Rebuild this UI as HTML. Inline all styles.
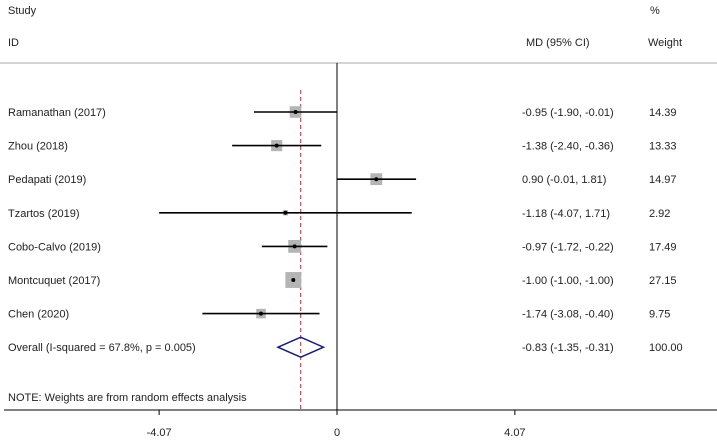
<!DOCTYPE html>
<html><head><meta charset="utf-8"><style>
body{margin:0;background:#fff;}
svg text{font-family:"Liberation Sans",sans-serif;font-size:11px;fill:#222;}
</style></head><body>
<svg width="717" height="439" viewBox="0 0 717 439">
<text x="8" y="14">Study</text>
<text x="8" y="46">ID</text>
<text x="526" y="46">MD (95% CI)</text>
<text x="650" y="14">%</text>
<text x="648" y="46">Weight</text>
<line x1="0" y1="63" x2="717" y2="63" stroke="#aaa" stroke-width="1"/>
<g id="plot"></g>
<text x="8" y="401">NOTE: Weights are from random effects analysis</text>
</svg>
<script>
const studies=["Ramanathan (2017)","Zhou (2018)","Pedapati (2019)","Tzartos (2019)","Cobo-Calvo (2019)","Montcuquet (2017)","Chen (2020)"];
const md=[-0.95,-1.38,0.90,-1.18,-0.97,-1.00,-1.74];
const lo=[-1.90,-2.40,-0.01,-4.07,-1.72,-1.00,-3.08];
const hi=[-0.01,-0.36,1.81,1.71,-0.22,-1.00,-0.40];
const weights=[14.39,13.33,14.97,2.92,17.49,27.15,9.75];
const overall=[-0.83,-1.35,-0.31];
const overallLabel="Overall  (I-squared = 67.8%, p = 0.005)";
const ticks=[-4.07,0,4.07];
const tickLabels=["-4.07","0","4.07"];
const NS="http://www.w3.org/2000/svg";
const g=document.getElementById('plot');
const x=v=>337+v*43.7;
const y=i=>112+i*33.6;
const fmt=v=>v.toFixed(2);
function mk(t,a,txt){const e=document.createElementNS(NS,t);for(const k in a)e.setAttribute(k,a[k]);if(txt!==undefined)e.textContent=txt;g.appendChild(e);return e;}
let e;
e=mk('line',{x1:x(0),y1:63,x2:x(0),y2:410,stroke:'#000','stroke-width':1});


e=mk('line',{x1:x(overall[0]),y1:90,x2:x(overall[0]),y2:410,stroke:'#a0303a','stroke-width':1,'stroke-dasharray':'4,3'});


studies.forEach((s,i)=>{
  const yy=y(i);
  e=mk('text',{x:8,y:yy+4},s);
  
  
  const side=3.05*Math.sqrt(weights[i]);
  e=mk('rect',{x:x(md[i])-side/2,y:yy-side/2,width:side,height:side,fill:'#b4b4b4'});
  
  
  e=mk('line',{x1:x(lo[i]),y1:yy,x2:x(hi[i]),y2:yy,stroke:'#000','stroke-width':1.6});
  
  
  e=mk('circle',{cx:x(md[i]),cy:yy,r:2,fill:'#000'});
  
  
  e=mk('text',{x:522,y:yy+4},fmt(md[i])+" ("+fmt(lo[i])+", "+fmt(hi[i])+")");
  
  
  e=mk('text',{x:649,y:yy+4},fmt(weights[i]));
  
  
});
const oy=y(studies.length);
e=mk('text',{x:8,y:oy+4},overallLabel);


e=mk('polygon',{points:`${x(overall[1])},${oy} ${x(overall[0])},${oy-10} ${x(overall[2])},${oy} ${x(overall[0])},${oy+10}`,fill:'none',stroke:'#1a2070','stroke-width':1.5});


e=mk('text',{x:522,y:oy+4},fmt(overall[0])+" ("+fmt(overall[1])+", "+fmt(overall[2])+")");


e=mk('text',{x:649,y:oy+4},"100.00");


e=mk('line',{x1:4,y1:410,x2:717,y2:410,stroke:'#000','stroke-width':1});


ticks.forEach((t,i)=>{
  e=mk('line',{x1:x(t),y1:410,x2:x(t),y2:415,stroke:'#000'});
  
  
  e=mk('text',{x:x(t),y:436,'text-anchor':'middle'},tickLabels[i]);
  
  
});
</script>
</body></html>
